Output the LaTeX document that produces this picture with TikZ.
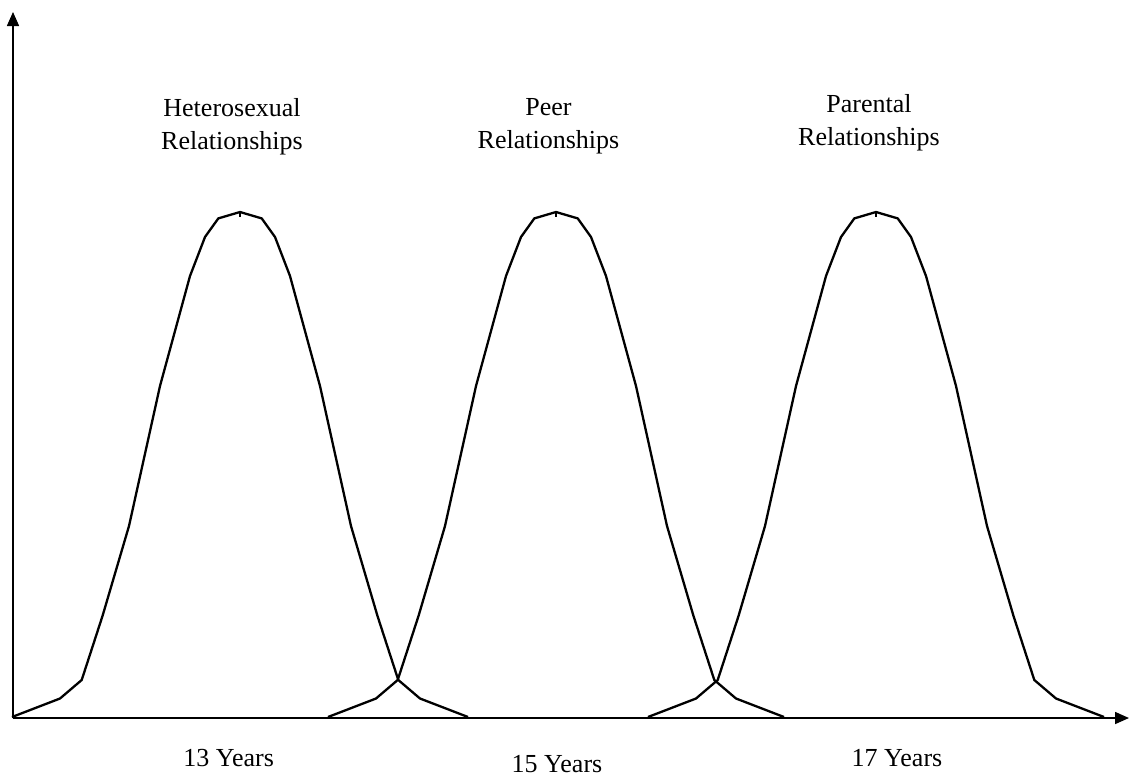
\documentclass[tikz,border=0pt]{standalone}
\usepackage{fontspec}
\setmainfont{Liberation Serif}
\usetikzlibrary{arrows.meta}
\begin{document}
\begin{tikzpicture}[x=1pt,y=-1pt,
  axis/.style={line width=1.5pt,-{Triangle[length=14pt,width=12pt]}},
  curve/.style={line width=2.3pt,line join=round},
  peaktick/.style={line width=1.2pt},
  lbl/.style={font=\fontsize{26}{33}\selectfont,align=center,inner sep=0pt},
  years/.style={font=\fontsize{26}{33}\selectfont,inner sep=0pt,anchor=base}]
\useasboundingbox (0,0) rectangle (1131,780);
\coordinate (origin) at (13,718);
\coordinate (ytip) at (13,12);
\coordinate (xtip) at (1129,718);
\draw[axis] (origin) -- (ytip);
\draw[axis] (origin) -- (xtip);
\foreach \c in {240,556,876}{
  \begin{scope}[xshift=\c pt]
  \draw[curve] plot coordinates {(-228,717) (-180,698.5) (-158.3,680) (-137.5,616) (-111,526) (-80,386) (-50,276) (-35,237) (-21.7,218.4) (0,212) (21.7,218.4) (35,237) (50,276) (80,386) (111,526) (137.5,616) (158.3,680) (180,698.5) (228,717)};
  \draw[peaktick] (0,212) -- (0,217);
  \end{scope}
}
\node[lbl] (hetero) at (232,126.4) {Heterosexual\\Relationships};
\node[lbl] (peer) at (548.5,126.4) {Peer\\Relationships};
\node[lbl] (parental) at (869,123) {Parental\\Relationships};
\node[years] (y13) at (228.7,766) {13 Years};
\node[years] (y15) at (557,772.7) {15 Years};
\node[years] (y17) at (897,766) {17 Years};
\end{tikzpicture}
\end{document}
